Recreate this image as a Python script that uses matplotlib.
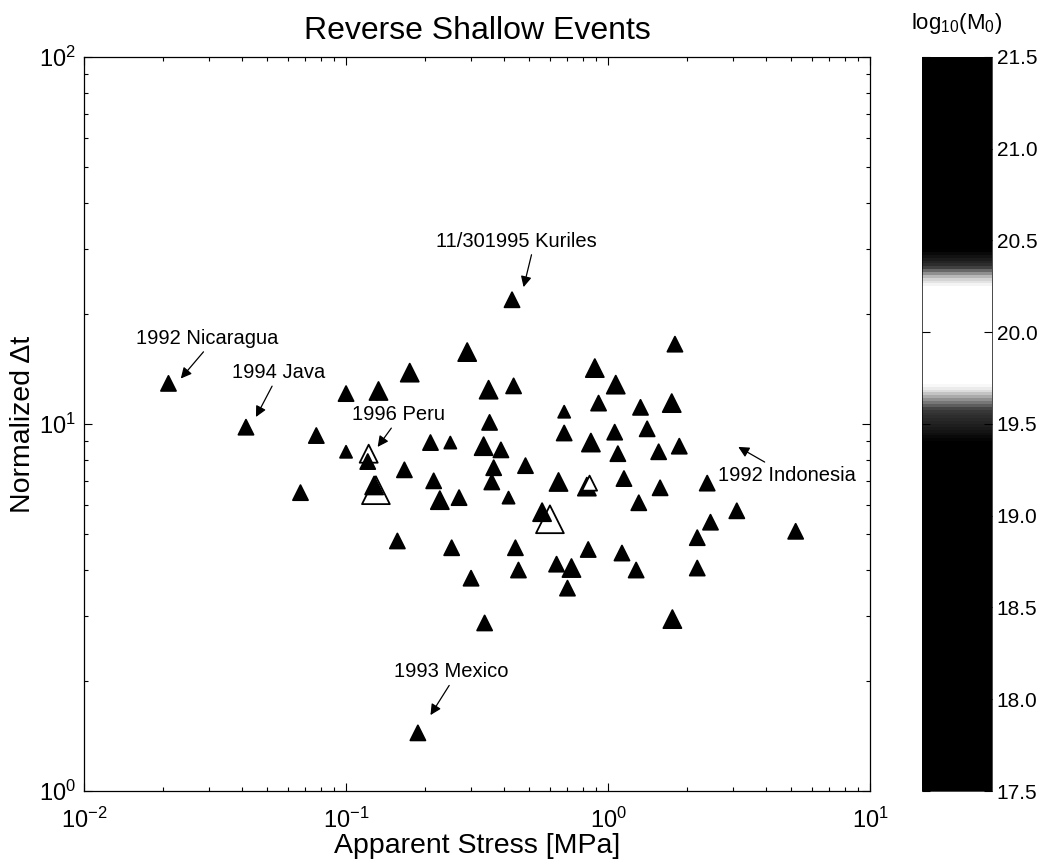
import numpy as np
import matplotlib
matplotlib.use('Agg')
import matplotlib.pyplot as plt
from matplotlib.colors import LinearSegmentedColormap, Normalize
from matplotlib.ticker import LogLocator, NullFormatter

plt.rcParams['font.family'] = ['Liberation Sans', 'DejaVu Sans']
plt.rcParams['mathtext.fontset'] = 'custom'
plt.rcParams['mathtext.rm'] = 'Liberation Sans'
plt.rcParams['mathtext.it'] = 'Liberation Sans:italic'
plt.rcParams['mathtext.bf'] = 'Liberation Sans:bold'

# apparent stress [MPa], normalized duration, log10 seismic moment
stress = [0.021, 0.0415, 0.077, 0.067, 0.10, 0.133, 0.175, 0.29, 0.35, 0.353,
          0.10, 0.21, 0.25, 0.335, 0.167, 0.216, 0.228, 0.27, 0.366, 0.36,
          0.157, 0.253, 0.30, 0.121, 0.128, 0.484, 1.8, 0.89, 1.07, 0.436,
          0.92, 1.75, 0.68, 1.33, 0.68, 0.86, 1.06, 1.41, 0.39, 1.09,
          1.56, 1.87, 0.647, 0.83, 1.15, 1.58, 2.39, 0.417, 1.31, 0.56,
          2.46, 3.1, 5.2, 2.19, 0.443, 0.84, 1.13, 0.455, 0.636, 0.725,
          1.28, 2.19, 0.70, 1.76, 0.338, 0.188, 0.43,
          0.122, 0.13, 0.60, 0.85]
norm_dt = [12.9, 9.8, 9.3, 6.5, 12.1, 12.3, 13.8, 15.7, 12.4, 10.1,
           8.4, 8.9, 8.9, 8.7, 7.5, 7.0, 6.2, 6.3, 7.6, 6.95,
           4.8, 4.6, 3.8, 7.9, 6.8, 7.7, 16.5, 14.2, 12.8, 12.7,
           11.4, 11.4, 10.8, 11.1, 9.45, 8.9, 9.5, 9.7, 8.5, 8.3,
           8.4, 8.7, 6.95, 6.75, 7.1, 6.7, 6.9, 6.3, 6.1, 5.75,
           5.4, 5.8, 5.1, 4.9, 4.6, 4.55, 4.45, 4.0, 4.15, 4.05,
           4.0, 4.05, 3.57, 2.94, 2.87, 1.44, 21.8,
           8.3, 6.6, 5.5, 6.9]
log_m0 = [18.6, 18.4, 18.2, 18.0, 18.3, 18.7, 18.9, 19.0, 18.5, 18.3,
          17.9, 18.1, 17.9, 18.8, 18.2, 18.0, 18.6, 18.1, 18.3, 18.2,
          18.4, 18.0, 18.2, 19.1, 20.9, 18.1, 18.2, 18.8, 19.0, 18.3,
          18.4, 18.9, 17.8, 18.4, 18.1, 18.7, 18.2, 18.1, 18.0, 18.3,
          18.2, 18.1, 18.9, 18.0, 18.2, 18.3, 18.2, 17.8, 18.1, 19.2,
          18.3, 18.4, 18.2, 18.1, 18.0, 18.4, 18.2, 18.0, 18.1, 18.8,
          18.1, 18.0, 18.2, 18.7, 18.3, 18.4, 18.3,
          20.0, 20.0, 20.0, 20.0]
# marker size class: s = small, n = normal, l = large, h = huge
size_class = list('nnnnnllllnsnslnnlnnnnnnnlnnllnnlsnnlnnnnnnllnnnsnl'
                  'nnnnnnnnnlnnnlnnn') + ['l', 'h', 'h', 'n']

size_map = {'s': 75, 'n': 117, 'l': 168, 'h': 400}

ann_text = ['1992 Nicaragua', '1994 Java', '1996 Peru', '11/301995 Kuriles',
            '1993 Mexico', '1992 Indonesia']
ann_tip = [(0.0234, 13.3), (0.0453, 10.45), (0.132, 8.66), (0.476, 23.6),
           (0.21, 1.61), (3.14, 8.66)]
ann_label = [(0.0294, 17.1), (0.0554, 13.8), (0.159, 10.6), (0.447, 31.5),
             (0.253, 2.11), (4.83, 7.26)]
ann_relpos = [(0.5, 0.0), (0.45, 0.0), (0.45, 0.0), (0.6, 0.0),
              (0.5, 0.0), (0.38, 1.0)]

cbar_ticks = [17.5, 18.0, 18.5, 19.0, 19.5, 20.0, 20.5, 21.0, 21.5]

# grey map: black everywhere except a white band around 10^20
m_lo, m_hi = 17.5, 21.5
def f(v):
    return (v - m_lo) / (m_hi - m_lo)
cmap = LinearSegmentedColormap.from_list('band', [
    (0.0, 'black'), (f(19.4), 'black'), (f(19.58), '#3a3a3a'),
    (f(19.68), '#dddddd'), (f(19.72), 'white'), (f(20.25), 'white'),
    (f(20.3), '#cccccc'), (f(20.36), '#333333'),
    (f(20.45), 'black'), (1.0, 'black')])
norm = Normalize(m_lo, m_hi)

fig = plt.figure(figsize=(10.44, 8.66), dpi=100)
ax = fig.add_axes([0.0805, 0.0866, 0.7529, 0.8476])
cax = fig.add_axes([0.8831, 0.0866, 0.067, 0.8476])

stress = np.array(stress)
norm_dt = np.array(norm_dt)
log_m0 = np.array(log_m0)
sizes = np.array([size_map[c] for c in size_class])

# draw the biggest marks first so the small ones stay on top
order = np.argsort(-sizes, kind='stable')
ax.scatter(stress[order], norm_dt[order], s=sizes[order], c=log_m0[order],
           cmap=cmap, norm=norm, marker='^', edgecolors='black',
           linewidths=1.3, zorder=3)

for txt, tip, lab, rp in zip(ann_text, ann_tip, ann_label, ann_relpos):
    ax.annotate(txt, xy=tip, xytext=lab, ha='center', va='center',
                fontsize=14.5,
                arrowprops=dict(arrowstyle='-|>', color='black', lw=0.9,
                                mutation_scale=16, shrinkA=1, shrinkB=0,
                                relpos=rp))

ax.set_xscale('log')
ax.set_yscale('log')
ax.set_xlim(1e-2, 1e1)
ax.set_ylim(1e0, 1e2)
ax.xaxis.set_minor_locator(LogLocator(base=10, subs=np.arange(2, 10)))
ax.yaxis.set_minor_locator(LogLocator(base=10, subs=np.arange(2, 10)))
ax.xaxis.set_minor_formatter(NullFormatter())
ax.yaxis.set_minor_formatter(NullFormatter())
ax.tick_params(which='both', direction='in', top=True, right=True,
               labelsize=17, width=0.8)
ax.tick_params(which='major', length=6)
ax.tick_params(axis='x', which='major', pad=12)
ax.tick_params(axis='y', which='major', pad=6)
ax.tick_params(which='minor', length=3)
for sp in ax.spines.values():
    sp.set_linewidth(0.9)

ax.set_xlabel('Apparent Stress [MPa]', fontsize=20.5, labelpad=0)
ax.set_ylabel('Normalized \u0394t', fontsize=20.5, labelpad=2)
ax.set_title('Reverse Shallow Events', fontsize=23, pad=13)

sm = plt.cm.ScalarMappable(cmap=cmap, norm=norm)
cbar = fig.colorbar(sm, cax=cax, ticks=cbar_ticks)
cbar.ax.set_yticklabels([f'{t:.1f}' for t in cbar_ticks])
cbar.ax.tick_params(direction='in', left=True, right=True, length=6,
                    labelsize=15, width=0.8)
cbar.outline.set_linewidth(0.5)
cbar.ax.set_title('log$_{10}$(M$_0$)', fontsize=16, pad=20)

fig.savefig('out.png', dpi=100)
